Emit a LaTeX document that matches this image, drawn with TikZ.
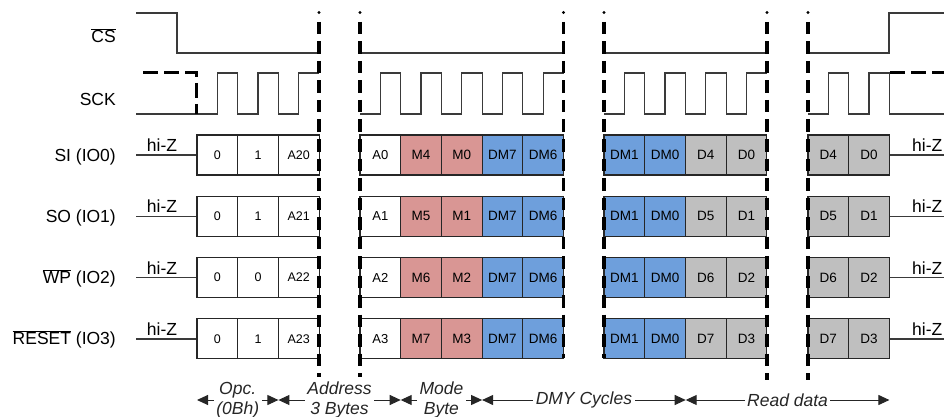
\documentclass[tikz,border=0pt]{standalone}
\usepackage{fontspec}
\setmainfont{Liberation Sans}
\usetikzlibrary{arrows.meta}
\definecolor{modered}{HTML}{D99694}
\definecolor{dmyblue}{HTML}{6E9FDC}
\definecolor{readgray}{HTML}{BFBFBF}
\definecolor{wavegray}{HTML}{3A3A3A}

\begin{document}
\begin{tikzpicture}[x=1pt, y=-1pt,
  sig/.style={anchor=base east, inner sep=0pt, font=\fontsize{17.5}{20}\selectfont},
  hiz/.style={anchor=base, inner sep=0pt, font=\fontsize{17.5}{20}\selectfont},
  wave/.style={wavegray, line width=1.2pt},
  idle/.style={black, line width=3pt, dash pattern=on 15pt off 6pt},
  cut/.style={black, line width=3.4pt, dash pattern=on 12.5pt off 7pt},
  cell/.style={draw=black!85, line width=1.1pt, minimum width=40.7pt,
               minimum height=40pt, inner sep=0pt,
               font=\fontsize{13.5}{16}\selectfont},
  opcell/.style={cell, font=\fontsize{12.5}{14}\selectfont},
  modecell/.style={cell, fill=modered},
  dmycell/.style={cell, fill=dmyblue},
  readcell/.style={cell, fill=readgray},
  span/.style={black!85, line width=1pt,
               {Triangle[length=11pt,width=10pt]}-{Triangle[length=11pt,width=10pt]}},
  phase/.style={fill=white, inner sep=2.5pt, align=center,
                font=\fontsize{17.5}{20}\itshape\selectfont},
]
\useasboundingbox (0,0) rectangle (944,417);

% signal names
\node[sig] (cs) at (116,43) {$\overline{\mbox{CS}}$};
\node[sig] (sck) at (116,106) {SCK};

% chip select
\draw[wave] (136,13) -- (177,13) -- (177,53) -- (319,53);
\draw[wave] (360,53) -- (563.5,53);
\draw[wave] (604,53) -- (767,53);
\draw[wave] (808,53) -- (889,53) -- (889,13) -- (944,13);

% clock
\draw[wave] (136,114) -- (197,114)
  foreach \k in {1,2} {-- ++(20.35,0) -- ++(0,-41) -- ++(20.35,0) -- ++(0,41)}
  -- ++(20.35,0) -- ++(0,-41) -- (319,73);
\draw[wave] (360,114)
  foreach \k in {1,...,4} {-- ++(20.35,0) -- ++(0,-41) -- ++(20.35,0) -- ++(0,41)}
  -- ++(20.35,0) -- ++(0,-41) -- (563.5,73);
\draw[wave] (604,114)
  foreach \k in {1,2,3} {-- ++(20.35,0) -- ++(0,-41) -- ++(20.35,0) -- ++(0,41)}
  -- ++(20.35,0) -- ++(0,-41) -- (767,73);
\draw[wave] (808,114)
  foreach \k in {1,2} {-- ++(20.35,0) -- ++(0,-41) -- ++(20.35,0) -- ++(0,41)}
  -- (944,114);
\draw[idle] (143,73) -- (196,73) -- (196,114);
\draw[idle] (890,73) -- (944,73);

% data lines
\foreach \r/\name/\oa/\ob/\ahi/\alo/\ma/\mb/\da/\db in {
    0/{SI (IO0)}/0/1/A20/A0/M4/M0/D4/D0,
    1/{SO (IO1)}/0/1/A21/A1/M5/M1/D5/D1,
    2/{$\overline{\mbox{WP}}$ (IO2)}/0/0/A22/A2/M6/M2/D6/D2,
    3/{$\overline{\mbox{RESET}}$ (IO3)}/0/1/A23/A3/M7/M3/D7/D3} {
  \pgfmathsetmacro{\yy}{155+61.3*\r}
  \node[sig] (io\r) at (116,\yy+6) {\name};
  \node[opcell] (opa\r) at (217.35,\yy) {\oa};
  \node[opcell] (opb\r) at (258.05,\yy) {\ob};
  \node[opcell] (adh\r) at (298.75,\yy) {\ahi};
  \node[cell, font=\fontsize{13}{16}\selectfont] (adl\r) at (380.35,\yy) {\alo};
  \node[modecell] (ma\r) at (421.05,\yy) {\ma};
  \node[modecell] (mb\r) at (461.75,\yy) {\mb};
  \node[dmycell] (dma\r) at (502.45,\yy) {DM7};
  \node[dmycell] (dmb\r) at (543.15,\yy) {DM6};
  \node[dmycell] (dmc\r) at (624.35,\yy) {DM1};
  \node[dmycell] (dmd\r) at (665.05,\yy) {DM0};
  \node[readcell] (rda\r) at (705.75,\yy) {\da};
  \node[readcell] (rdb\r) at (746.45,\yy) {\db};
  \node[readcell] (rdc\r) at (828.35,\yy) {\da};
  \node[readcell] (rdd\r) at (869.05,\yy) {\db};
  \node[hiz] (hzl\r) at (162,\yy-3.5) {hi-Z};
  \node[hiz, anchor=base west] (hzr\r) at (912,\yy-3.5) {hi-Z};
  \draw[wave] (136,\yy) -- (opa\r.west);
  \draw[wave] (rdd\r.east) -- (944,\yy);
}

% breaks in the time axis
\foreach \x/\yb in {319/377, 360/377, 563.5/358, 604/358, 767/380, 808/380} {
  \fill (\x,12.5) circle (1.6pt);
  \draw[cut] (\x,22) -- (\x,\yb);
}

% phases
\coordinate (opc) at (197,400);
\coordinate (adr) at (278.4,400);
\coordinate (mod) at (400.7,400);
\coordinate (dmy) at (482.1,400);
\coordinate (rd) at (685.7,400);
\coordinate (fin) at (889.4,400);
\draw[span] (opc) -- node[phase] (opctxt) {Opc.\\(0Bh)} (adr);
\draw[span] (adr) -- node[phase] (adrtxt) {Address\\3 Bytes} (mod);
\draw[span] (mod) -- node[phase] (modtxt) {Mode\\Byte} (dmy);
\draw[span] (dmy) -- node[phase] (dmytxt) {DMY Cycles} (rd);
\draw[span] (rd) -- node[phase] (rdtxt) {Read data} (fin);

\end{tikzpicture}
\end{document}
